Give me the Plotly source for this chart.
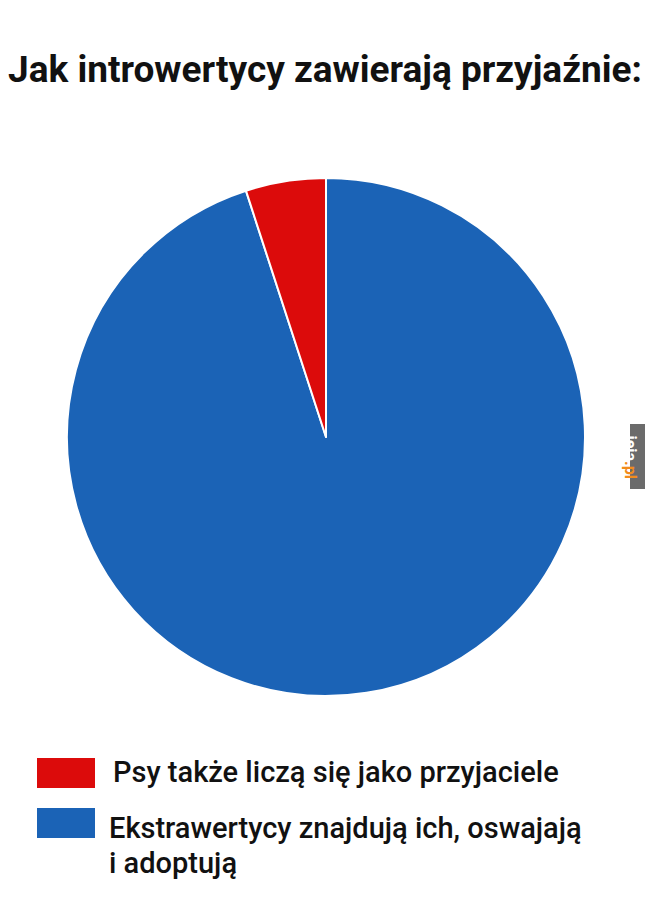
import plotly.graph_objects as go

title_text = "Jak introwertycy zawierają przyjaźnie:"
labels = ["Psy także liczą się jako przyjaciele",
          "Ekstrawertycy znajdują ich, oswajają<br>i adoptują"]
values = [5, 95]
colors = ["#DC0B0B", "#1B63B6"]

# page body has an 8px margin; figure sized to fit the 653x915 window
OFF = 8
W, H = 653 - OFF, 915 - OFF
FONT = "Roboto, sans-serif"


def px(X):
    return (X - OFF) / W


def py(Y):
    return 1 - (Y - OFF) / H


cx, cy, r = 326, 437, 259

# drawn clockwise from 12 o'clock in reverse order so the red slice ends at 12 o'clock
fig = go.Figure(go.Pie(
    labels=labels[::-1], values=values[::-1], sort=False, direction="clockwise",
    rotation=0, textinfo="none", hoverinfo="label+percent",
    marker=dict(colors=colors[::-1], line=dict(color="white", width=2)),
    domain=dict(x=[px(cx - r), px(cx + r)], y=[py(cy + r), py(cy - r)]),
    showlegend=False,
))

# custom legend built from labels/colors
box_tops = [758, 808]
text_y = [772, 828]
text_x = [111, 107]
line_gap = 35
for i, (lab, col) in enumerate(zip(labels, colors)):
    fig.add_shape(type="rect", xref="paper", yref="paper",
                  x0=px(37), x1=px(95), y0=py(box_tops[i] + 30), y1=py(box_tops[i]),
                  fillcolor=col, line=dict(width=0))
    for j, line in enumerate(lab.split("<br>")):
        fig.add_annotation(text=line, xref="paper", yref="paper", x=px(text_x[i]),
                           y=py(text_y[i] + j * line_gap), xanchor="left", yanchor="middle",
                           align="left", showarrow=False,
                           font=dict(family=FONT, size=29, color="#111111", weight=500))

# watermark tab
fig.add_shape(type="rect", xref="paper", yref="paper", x0=px(630), x1=1.0,
              y0=py(489), y1=py(424), fillcolor="#6b6b6b", line=dict(width=0),
              layer="above")
fig.add_annotation(text="jeja<span style='color:#f28c1c'>.pl</span>", xref="paper", yref="paper",
                   x=px(642), y=py(456), textangle=90, showarrow=False,
                   font=dict(family=FONT, size=16, color="white", weight="bold"))

fig.update_layout(
    width=W, height=H, margin=dict(l=0, r=0, t=0, b=0),
    paper_bgcolor="white", plot_bgcolor="white",
    title=dict(text=title_text, x=px(8), xanchor="left", y=py(69), yanchor="middle",
               font=dict(family=FONT, size=37, color="#111111", weight="bold")),
)

fig.write_html("out.html")
